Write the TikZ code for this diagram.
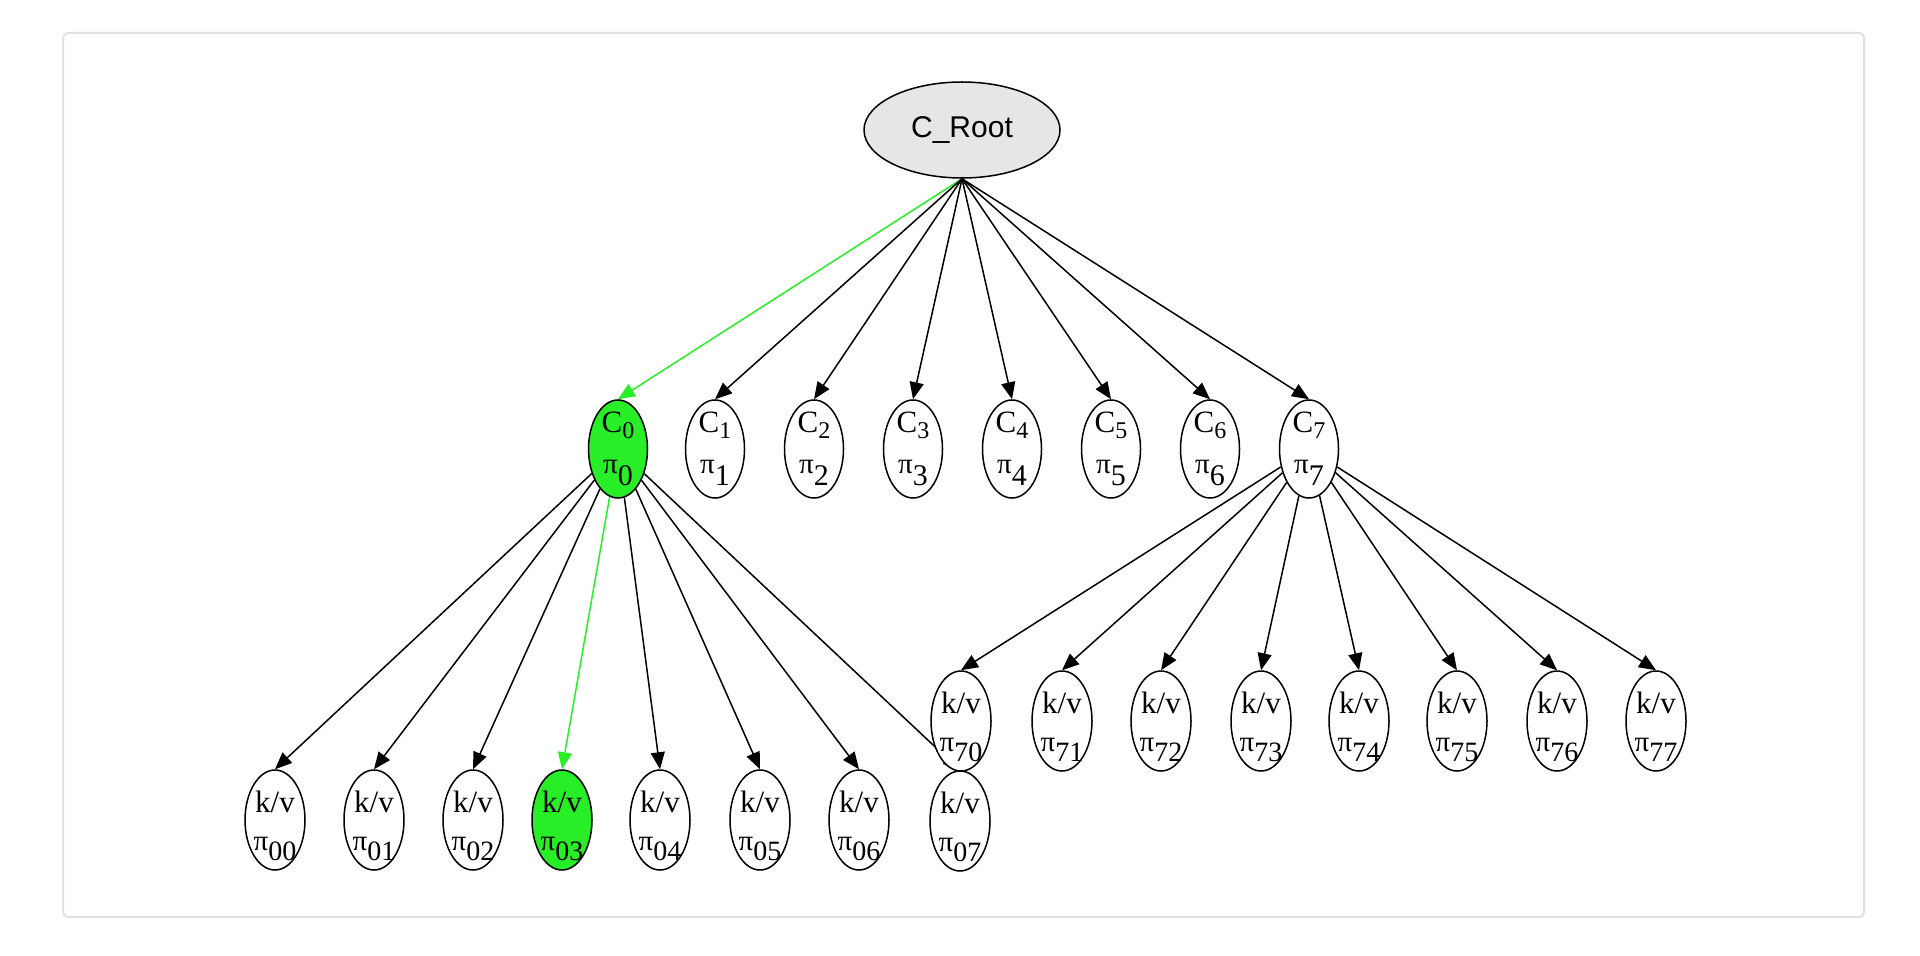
\documentclass[tikz,border=0pt]{standalone}
\usepackage{fontspec}
\setmainfont{Liberation Serif}
\newfontfamily\arialfont{Liberation Sans}
\usetikzlibrary{shapes.geometric,arrows.meta,backgrounds}
\definecolor{hlgreen}{RGB}{40,238,40}
\definecolor{rootgray}{RGB}{230,230,230}
\definecolor{framegray}{RGB}{224,224,224}
\newcommand{\leaflab}[1]{k/v\\{\fontsize{14.5}{14}\selectfont π}\raisebox{-5pt}{\fontsize{14}{14}\selectfont #1}}
\newcommand{\innerlab}[1]{C\raisebox{-3pt}{\fontsize{12}{12}\selectfont #1}\\{\fontsize{14.5}{14}\selectfont π}\raisebox{-6pt}{\fontsize{15}{15}\selectfont #1}}
\tikzset{
  basenode/.style={ellipse, draw=black, line width=0.75pt, fill=white, inner sep=0pt},
  rootnode/.style={basenode, fill=rootgray, minimum width=98pt, minimum height=48pt,
    font=\arialfont\fontsize{15}{15}\selectfont},
  cnode/.style={basenode, minimum width=29.5pt, minimum height=49pt},
  kvnode/.style={basenode, minimum width=30pt, minimum height=50pt},
  hl/.style={fill=hlgreen},
  kvtext/.style={font=\fontsize{15.5}{19}\selectfont, align=center, inner sep=0pt, yshift=-3pt},
  ctext/.style={font=\fontsize{15.5}{20.5}\selectfont, align=center, inner sep=0pt},
  edge/.style={-{Triangle[length=8.5pt,width=7pt]}, line width=0.75pt, black},
  hledge/.style={edge, hlgreen},
  framestyle/.style={draw=framegray, line width=1pt, rounded corners=2.5pt}
}
\begin{document}
\begin{tikzpicture}[x=0.5pt,y=-0.5pt]
\useasboundingbox (0,0) rectangle (1920,956);
% root
\node[rootnode] (root) at (962,130) {C\_Root};
% level 1
\node[cnode, hl, label={[ctext]center:{\innerlab{0}}}] (c0) at (618,449) {};
\node[cnode, label={[ctext]center:{\innerlab{1}}}] (c1) at (715,449) {};
\node[cnode, label={[ctext]center:{\innerlab{2}}}] (c2) at (814,449) {};
\node[cnode, label={[ctext]center:{\innerlab{3}}}] (c3) at (913,449) {};
\node[cnode, label={[ctext]center:{\innerlab{4}}}] (c4) at (1012,449) {};
\node[cnode, label={[ctext]center:{\innerlab{5}}}] (c5) at (1111,449) {};
\node[cnode, label={[ctext]center:{\innerlab{6}}}] (c6) at (1210,449) {};
\node[cnode, label={[ctext]center:{\innerlab{7}}}] (c7) at (1309,449) {};
% leaves under C0
\node[kvnode, label={[kvtext]center:{\leaflab{00}}}] (l00) at (275,820) {};
\node[kvnode, label={[kvtext]center:{\leaflab{01}}}] (l01) at (374,820) {};
\node[kvnode, label={[kvtext]center:{\leaflab{02}}}] (l02) at (473,820) {};
\node[kvnode, hl, label={[kvtext]center:{\leaflab{03}}}] (l03) at (562,820) {};
\node[kvnode, label={[kvtext]center:{\leaflab{04}}}] (l04) at (660,820) {};
\node[kvnode, label={[kvtext]center:{\leaflab{05}}}] (l05) at (760,820) {};
\node[kvnode, label={[kvtext]center:{\leaflab{06}}}] (l06) at (859,820) {};
\node[kvnode, label={[kvtext]center:{\leaflab{07}}}] (l07) at (960,821) {};
% leaves under C7
\node[kvnode, label={[kvtext]center:{\leaflab{70}}}] (l70) at (961,721) {};
\node[kvnode, label={[kvtext]center:{\leaflab{71}}}] (l71) at (1062,721) {};
\node[kvnode, label={[kvtext]center:{\leaflab{72}}}] (l72) at (1161,721) {};
\node[kvnode, label={[kvtext]center:{\leaflab{73}}}] (l73) at (1261,721) {};
\node[kvnode, label={[kvtext]center:{\leaflab{74}}}] (l74) at (1359,721) {};
\node[kvnode, label={[kvtext]center:{\leaflab{75}}}] (l75) at (1457,721) {};
\node[kvnode, label={[kvtext]center:{\leaflab{76}}}] (l76) at (1557,721) {};
\node[kvnode, label={[kvtext]center:{\leaflab{77}}}] (l77) at (1656,721) {};
\begin{scope}[on background layer]
  \draw[framestyle] (63,33) rectangle (1864,917);
  \draw[hledge] (root.south) -- (c0.north);
  \foreach \i in {1,...,7} \draw[edge] (root.south) -- (c\i.north);
  \foreach \i in {0,1,2,4,5,6,7} \draw[edge] (c0) -- (l0\i.north);
  \draw[hledge] (c0) -- (l03.north);
  \foreach \i in {0,...,7} \draw[edge] (c7) -- (l7\i.north);
\end{scope}
\end{tikzpicture}
\end{document}
